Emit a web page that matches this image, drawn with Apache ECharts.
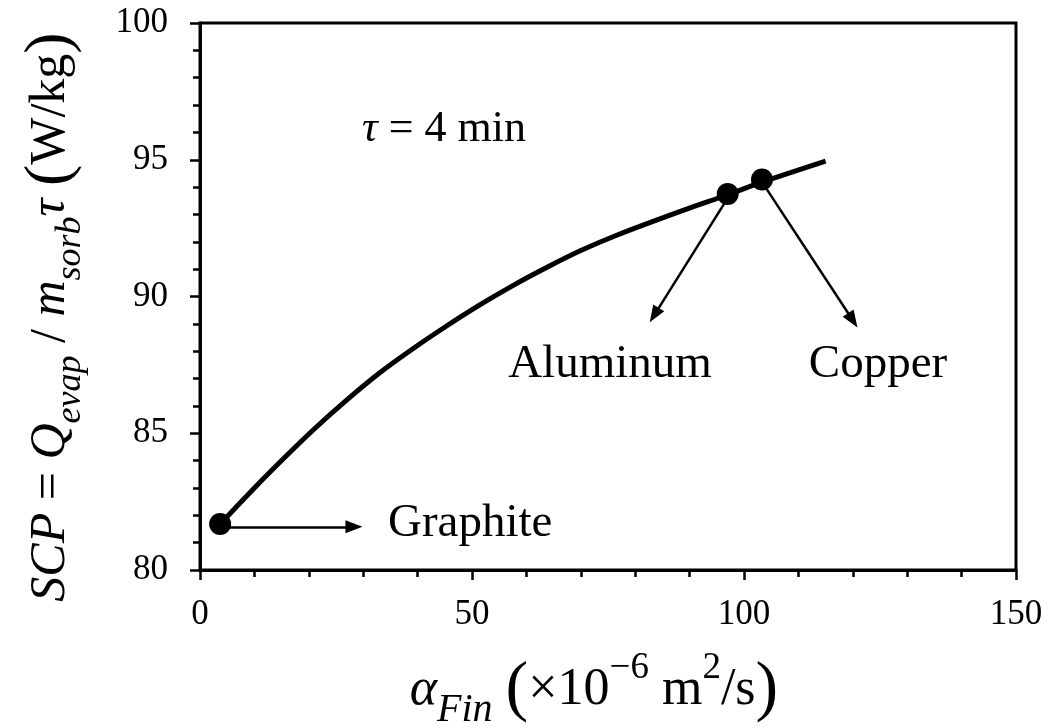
<!DOCTYPE html>
<html><head><meta charset="utf-8">
<script src="https://cdn.jsdelivr.net/npm/echarts@6/dist/echarts.min.js"></script>
<style>html,body{margin:0;padding:0;background:#fff}#c{width:1049px;height:728px}</style>
</head><body><div id="c"></div>
<script>
// ---- data ----
const curveX = [3.7, 10, 15.6, 20.8, 27.0, 33.1, 39.2, 45.4, 51.5, 57.5, 63.8, 69.9, 76.7, 88.8, 97.0, 103.3, 115.0];
const curveY = [81.68, 83.0, 84.12, 85.12, 86.22, 87.22, 88.10, 88.93, 89.70, 90.40, 91.07, 91.67, 92.25, 93.15, 93.72, 94.18, 94.95];
const materials = ['Graphite', 'Aluminum', 'Copper'];
const materialX = [3.7, 97.0, 103.3];
const materialY = [81.68, 93.75, 94.28];
const arrowFrom = [[5.5, 81.58], [97.0, 93.6], [103.6, 94.1]];
const arrowTo = [[28.3, 81.58], [83.5, 89.32], [120.0, 89.13]];
const xTicks = [0, 50, 100, 150];
const yTicks = [80, 85, 90, 95, 100];
const noteText = '{i|τ}{r| = 4 min}';
const yTitle = '{i|SCP}{r| = }{i|Q}{sub|evap}{r| / }{i|m}{sub|sorb}{i|τ}{r| }{p|(}{r|W/kg}{p|)}';
const xTitle = '{ia|α}{sub|Fin}{r| }{p|(}{r|×10}{sup|−6}{r| m}{sup|2}{r|/s}{p|)}';

const FONT = 'Liberation Serif';
const chart = echarts.init(document.getElementById('c'), null, {renderer: 'canvas'});

const tickStyle = {color: '#000', width: 2.5};
const option = {
  backgroundColor: '#fff',
  animation: false,
  grid: {left: 200, right: 33, top: 23, bottom: 158, show: true, borderColor: '#000', borderWidth: 3, backgroundColor: 'transparent'},
  xAxis: {
    type: 'value', min: xTicks[0], max: xTicks[xTicks.length - 1], interval: xTicks[1] - xTicks[0],
    axisLine: {show: true, onZero: false, lineStyle: {color: '#000', width: 3}},
    axisTick: {show: true, inside: false, length: 10, lineStyle: tickStyle},
    minorTick: {show: true, splitNumber: 5, length: 7, lineStyle: tickStyle},
    splitLine: {show: false}, minorSplitLine: {show: false},
    axisLabel: {fontSize: 35, fontFamily: FONT, color: '#000', margin: 27}
  },
  yAxis: {
    type: 'value', min: yTicks[0], max: yTicks[yTicks.length - 1], interval: yTicks[1] - yTicks[0],
    axisLine: {show: true, onZero: false, lineStyle: {color: '#000', width: 3}},
    axisTick: {show: true, inside: false, length: 10, lineStyle: tickStyle},
    minorTick: {show: true, splitNumber: 5, length: 7, lineStyle: tickStyle},
    splitLine: {show: false}, minorSplitLine: {show: false},
    axisLabel: {fontSize: 35, fontFamily: FONT, color: '#000', margin: 32}
  },
  series: [
    {
      type: 'line', data: curveX.map((x, i) => [x, curveY[i]]), smooth: 0.3,
      showSymbol: false, lineStyle: {color: '#000', width: 5, opacity: 1}, z: 2, silent: true
    },
    {
      type: 'lines', coordinateSystem: 'cartesian2d',
      data: arrowFrom.map((f, i) => ({coords: [f, arrowTo[i]]})),
      lineStyle: {color: '#000', width: 2.5, opacity: 1, curveness: 0},
      itemStyle: {color: '#000', opacity: 1},
      symbol: ['none', 'path://M0,-10 L6,8 L-6,8 Z'], symbolSize: [1, [13, 17]],
      z: 3, silent: true
    },
    {
      type: 'scatter', data: materialX.map((x, i) => ({name: materials[i], value: [x, materialY[i]]})),
      symbol: 'circle', symbolSize: 22, itemStyle: {color: '#000', opacity: 1, borderWidth: 0}, z: 4, silent: true
    }
  ],
  graphic: [
    {type: 'text', x: 362, y: 129, style: {text: noteText, align: 'left', verticalAlign: 'middle', fill: '#000',
      rich: {i: {fontSize: 44, fontStyle: 'italic', fontFamily: FONT}, r: {fontSize: 44, fontFamily: FONT}}}},
    {type: 'text', x: 610, y: 365, style: {text: materials[1], align: 'center', verticalAlign: 'middle', fill: '#000', fontSize: 47, fontFamily: FONT}},
    {type: 'text', x: 878, y: 365, style: {text: materials[2], align: 'center', verticalAlign: 'middle', fill: '#000', fontSize: 47, fontFamily: FONT}},
    {type: 'text', x: 388, y: 524, style: {text: materials[0], align: 'left', verticalAlign: 'middle', fill: '#000', fontSize: 47, fontFamily: FONT}},
    {type: 'text', x: 51, y: 317, rotation: Math.PI / 2, style: {text: yTitle, align: 'center', verticalAlign: 'middle', fill: '#000',
      rich: {
        i: {fontSize: 50, fontStyle: 'italic', fontFamily: FONT, lineHeight: 76},
        r: {fontSize: 50, fontFamily: FONT, lineHeight: 76},
        sub: {fontSize: 36, fontStyle: 'italic', fontFamily: FONT, lineHeight: 50, verticalAlign: 'bottom'},
        p: {fontSize: 64, fontFamily: FONT, lineHeight: 76}
      }}},
    {type: 'text', x: 594, y: 690, style: {text: xTitle, align: 'center', verticalAlign: 'middle', fill: '#000',
      rich: {
        ia: {fontSize: 52, fontStyle: 'italic', fontFamily: FONT, lineHeight: 80},
        r: {fontSize: 52, fontFamily: FONT, lineHeight: 80},
        sub: {fontSize: 40, fontStyle: 'italic', fontFamily: FONT, lineHeight: 34, verticalAlign: 'bottom'},
        sup: {fontSize: 37, fontFamily: FONT, lineHeight: 48, verticalAlign: 'top'},
        p: {fontSize: 68, fontFamily: FONT, lineHeight: 80}
      }}}
  ]
};
chart.setOption(option);
</script></body></html>
